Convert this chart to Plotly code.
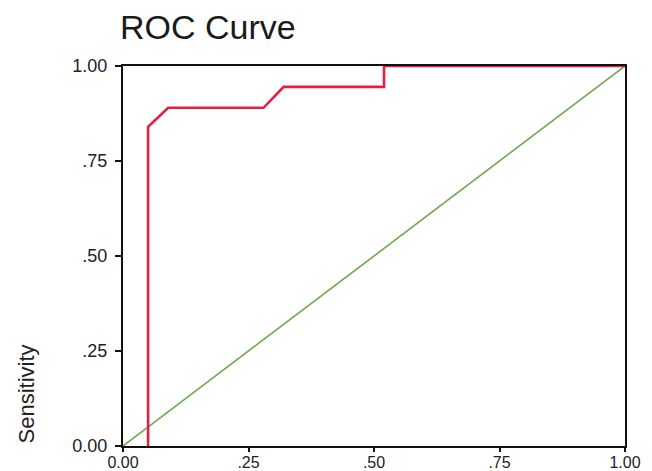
import plotly.graph_objects as go

# ROC curve data (1 - specificity vs sensitivity)
fpr = [0.05, 0.05, 0.09, 0.28, 0.32, 0.52, 0.52, 1.00]
tpr = [0.00, 0.84, 0.89, 0.89, 0.945, 0.945, 1.00, 1.00]
ref_x = [0.0, 1.0]
ref_y = [0.0, 1.0]
tick_vals = [0.0, 0.25, 0.5, 0.75, 1.0]
tick_text = ["0.00", ".25", ".50", ".75", "1.00"]

font_family = "Liberation Sans, Arial, sans-serif"

# page has an 8px body margin; figure sized to fit the 652x471 window
W, H = 644, 463
L, R, T, B = 115, 27, 58, 25
plot_w = W - L - R

fig = go.Figure()
fig.add_trace(go.Scatter(x=ref_x, y=ref_y, mode="lines",
                         line=dict(color="#6fa64e", width=1.6), showlegend=False))
fig.add_trace(go.Scatter(x=fpr, y=tpr, mode="lines",
                         line=dict(color="#e2203f", width=2.6), showlegend=False))

axis_common = dict(
    range=[0, 1], tickvals=tick_vals, ticktext=tick_text, automargin=False,
    showgrid=False, zeroline=False, showline=True, linecolor="#111111",
    linewidth=2, mirror=True, ticks="outside", tickwidth=1.5,
    tickcolor="#111111",
)

fig.update_layout(
    width=W, height=H,
    margin=dict(l=L, r=R, t=T, b=B),
    paper_bgcolor="white", plot_bgcolor="white",
    xaxis=dict(**axis_common, ticklen=4, ticklabelstandoff=-3,
               tickfont=dict(family=font_family, size=16, color="#222222")),
    yaxis=dict(**axis_common, ticklen=6, ticklabelstandoff=4,
               tickfont=dict(family=font_family, size=18, color="#222222")),
    title=dict(text="ROC Curve", xref="container", yref="container",
               x=112 / W, xanchor="left", y=1 - 19 / H, yanchor="middle",
               font=dict(family=font_family, size=34, color="#1a1a1a")),
    annotations=[dict(text="Sensitivity", xref="paper", yref="paper",
                      x=-(L - 18) / plot_w, y=0.0, xanchor="center", yanchor="bottom",
                      textangle=-90, showarrow=False,
                      font=dict(family=font_family, size=22, color="#222222"))],
)

fig.write_html("out.html")
